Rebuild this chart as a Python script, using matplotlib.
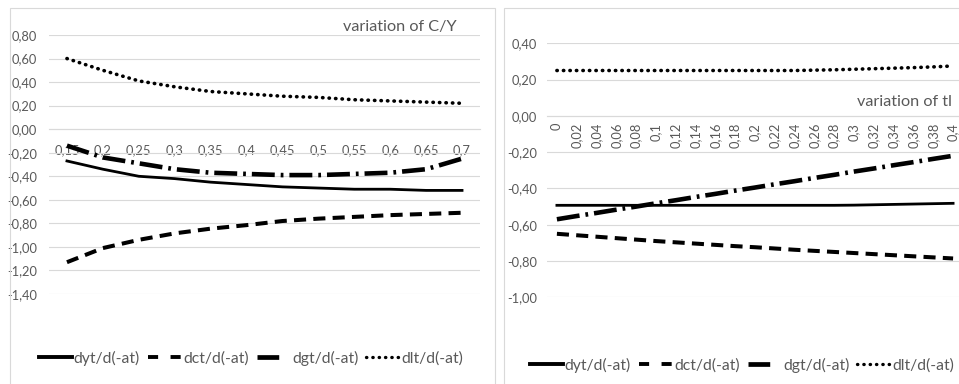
import matplotlib.pyplot as plt
from matplotlib.lines import Line2D
from matplotlib.patches import Rectangle

plt.rcParams['font.family'] = ['Lato', 'DejaVu Sans']

# variation of C/Y
cats_cy = ['0,15', '0,2', '0,25', '0,3', '0,35', '0,4', '0,45', '0,5', '0,55', '0,6', '0,65', '0,7']
dyt_cy = [-0.27, -0.34, -0.40, -0.42, -0.45, -0.47, -0.49, -0.50, -0.51, -0.51, -0.52, -0.52]
dct_cy = [-1.13, -1.01, -0.94, -0.885, -0.845, -0.815, -0.78, -0.76, -0.745, -0.73, -0.72, -0.71]
dgt_cy = [-0.14, -0.24, -0.29, -0.34, -0.37, -0.38, -0.39, -0.39, -0.38, -0.37, -0.34, -0.25]
dlt_cy = [0.60, 0.50, 0.41, 0.36, 0.32, 0.30, 0.28, 0.27, 0.25, 0.24, 0.23, 0.22]

# variation of tl
cats_tl = ['0', '0,02', '0,04', '0,06', '0,08', '0,1', '0,12', '0,14', '0,16', '0,18', '0,2',
           '0,22', '0,24', '0,26', '0,28', '0,3', '0,32', '0,34', '0,36', '0,38', '0,4']
dyt_tl = [-0.493, -0.493, -0.493, -0.493, -0.493, -0.493, -0.493, -0.493, -0.493, -0.493, -0.493,
          -0.493, -0.493, -0.493, -0.493, -0.492, -0.49, -0.488, -0.486, -0.484, -0.482]
dct_tl = [-0.650, -0.658, -0.666, -0.674, -0.682, -0.690, -0.697, -0.704, -0.711, -0.718, -0.724,
          -0.731, -0.738, -0.744, -0.750, -0.756, -0.762, -0.768, -0.774, -0.780, -0.786]
dgt_tl = [-0.57, -0.552, -0.535, -0.517, -0.50, -0.482, -0.465, -0.447, -0.43, -0.412, -0.395,
          -0.377, -0.36, -0.342, -0.325, -0.307, -0.29, -0.272, -0.255, -0.237, -0.22]
dlt_tl = [0.25, 0.25, 0.25, 0.25, 0.25, 0.25, 0.25, 0.25, 0.25, 0.25, 0.25,
          0.25, 0.25, 0.252, 0.254, 0.257, 0.260, 0.263, 0.266, 0.270, 0.275]

noms = ['dyt/d(-at)', 'dct/d(-at)', 'dgt/d(-at)', 'dlt/d(-at)']
grid_c = '#d9d9d9'
txt_c = '#595959'

styles = [
    dict(ls='-', lw=2.0),
    dict(ls=(0, (3.0, 1.8)), lw=2.9),
    dict(ls=(0, (5.0, 1.3, 0.6, 1.3)), lw=3.3),
    dict(ls=(0, (0.1, 1.7)), lw=2.6, dash_capstyle='round'),
]

fig = plt.figure(figsize=(9.59, 3.84), dpi=100)

# cadres des graphiques
fig.patches.append(Rectangle((10 / 959, -0.1), 485 / 959, 1.1 - 8 / 384, transform=fig.transFigure,
                             fill=False, ec=grid_c, lw=0.8))
fig.patches.append(Rectangle((504 / 959, -0.1), 0.5, 1.1 - 8 / 384, transform=fig.transFigure,
                             fill=False, ec=grid_c, lw=0.8))


def graphique(ax, cats, series, ymin, ymax, rot, pad, ypad):
    x = list(range(len(cats)))
    for vals, st in zip(series, styles):
        ax.plot(x, vals, color='black', **st)
    ax.set_xlim(-0.5, len(cats) - 0.5)
    ax.set_ylim(ymin, ymax)
    ax.grid(axis='y', color=grid_c, lw=0.8)
    ax.set_axisbelow(True)
    for s in ['top', 'right', 'left']:
        ax.spines[s].set_visible(False)
    ax.spines['bottom'].set_position(('data', 0))
    ax.spines['bottom'].set_color(grid_c)
    ax.spines['bottom'].set_linewidth(0.8)
    ticks_y = [round(ymin + 0.2 * i, 2) for i in range(int(round((ymax - ymin) / 0.2)) + 1)]
    ax.set_yticks(ticks_y)
    ax.set_yticklabels([('%.2f' % v).replace('.', ',') for v in ticks_y])
    ax.set_xticks(x)
    ax.set_xticklabels(cats)
    ax.tick_params(axis='x', length=0, pad=pad, labelsize=9.3, labelcolor=txt_c,
                   labelrotation=rot)
    ax.tick_params(axis='y', length=0, pad=ypad, labelsize=9.3, labelcolor=txt_c)


ax1 = fig.add_axes([49 / 959, 1 - 294 / 384, 431 / 959, 259 / 384])
graphique(ax1, cats_cy, [dyt_cy, dct_cy, dgt_cy, dlt_cy], -1.4, 0.8, 0, 10.5, 8.5)
fig.text(457 / 959, 1 - 27 / 384, 'variation of C/Y', ha='right', va='center', fontsize=11.7, color=txt_c)

ax2 = fig.add_axes([547 / 959, 1 - 297.3 / 384, 416 / 959, 254 / 384])
graphique(ax2, cats_tl, [dyt_tl, dct_tl, dgt_tl, dlt_tl], -1.0, 0.4, 90, 5, 7)
fig.text(952 / 959, 1 - 102 / 384, 'variation of tl', ha='right', va='center', fontsize=11.7, color=txt_c)

# légendes
poignees = [
    Line2D([], [], color='black', ls='-', lw=2.8),
    Line2D([], [], color='black', ls=(0, (2.6, 3.2)), lw=2.8),
    Line2D([], [], color='black', ls=(0, (4.6, 10)), lw=3.4),
    Line2D([], [], color='black', ls=(0, (0.1, 1.8)), lw=2.4, dash_capstyle='round'),
]
for cx, cy in [(251 / 959, 1 - 358 / 384), (742 / 959, 1 - 365 / 384)]:
    fig.legend(poignees, noms, loc='center', bbox_to_anchor=(cx, cy), ncol=4, frameon=False,
               fontsize=11.3, labelcolor=txt_c, handlelength=2.1, handletextpad=0.15,
               columnspacing=0.5, borderpad=0, borderaxespad=0)

fig.savefig('out.png', dpi=100)
